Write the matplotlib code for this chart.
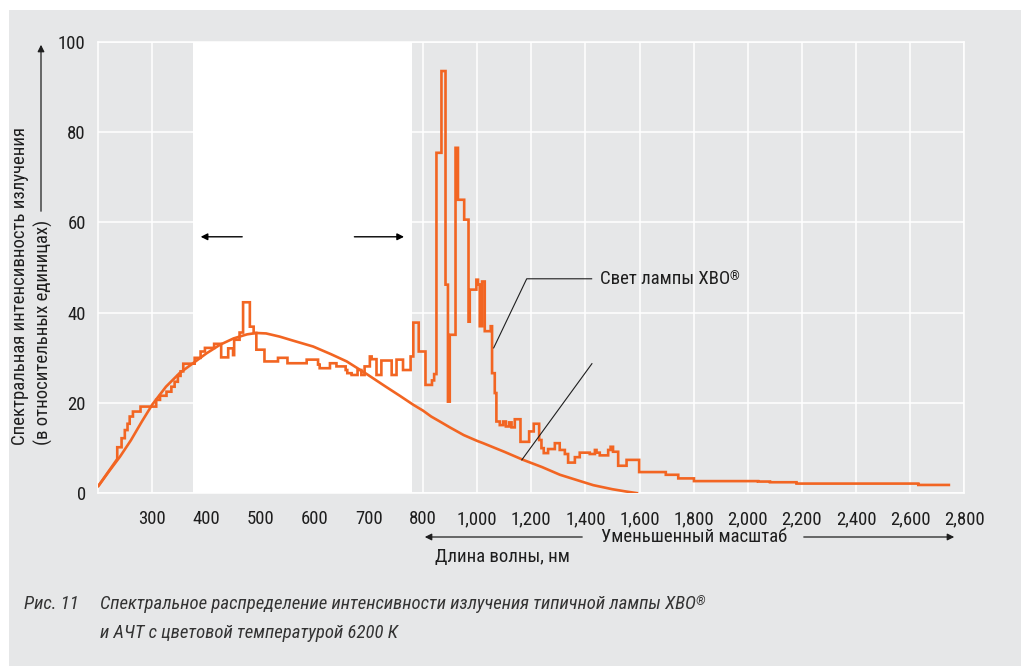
import numpy as np
import matplotlib.pyplot as plt
from matplotlib.patches import Rectangle

plt.rcParams['font.family'] = ['Roboto Condensed', 'DejaVu Sans']

ORANGE = '#f26522'
PANEL = '#e6e7e8'
INK = '#1e1e1e'

# axis ticks (nm above 800 are drawn at half scale)
xticks = [300, 400, 500, 600, 700, 800, 1000, 1200, 1400, 1600, 1800,
          2000, 2200, 2400, 2600, 2800]
yticks = [0, 20, 40, 60, 80, 100]

# black body 6200 K, relative units
bb_nm = [200, 220, 240, 260, 280, 300, 325, 350, 375, 400, 425, 450, 475,
         492, 510, 535, 560, 597, 630, 659, 696, 730, 757, 782, 800, 830,
         862, 899, 950, 1000, 1022, 1100, 1170, 1240, 1306, 1370, 1429,
         1500, 1550, 1595]
bb_val = [1.6, 4.9, 8.1, 11.7, 15.8, 19.7, 23.6, 26.6, 28.8, 31.0, 32.9,
          34.3, 35.2, 35.5, 35.4, 34.7, 33.8, 32.5, 30.8, 29.2, 26.4, 23.7,
          21.6, 19.6, 18.3, 17.0, 15.9, 14.6, 12.9, 11.6, 11.1, 9.2, 7.4,
          5.8, 4.1, 2.9, 1.8, 0.9, 0.4, 0.0]

# XBO lamp: ramp at the start, then a step spectrum (edge nm -> level)
xbo_ramp_nm = [200, 235]
xbo_ramp_val = [1.6, 7.6]
xbo_edges = [235, 243, 249, 254, 258, 264, 278, 307, 314, 326, 335, 341,
             347, 352, 357, 378, 389, 397, 414, 427, 440, 449, 451, 461,
             467.5, 480, 487, 492, 507, 532, 549.5, 585, 606, 609, 628,
             640, 657, 660, 668, 679, 686, 692, 701.7, 705, 714, 723, 742,
             751, 763, 777, 782, 792, 809, 833, 841, 849.5, 868, 883, 892,
             898.7, 920, 929, 952, 968, 972.6, 997, 1003, 1009.6, 1018,
             1028, 1050, 1055, 1065, 1071, 1083.5, 1096, 1106, 1118, 1127,
             1139, 1160, 1192, 1209, 1229, 1237.5, 1246, 1262, 1287, 1305,
             1324, 1336, 1361, 1379, 1416, 1435, 1441, 1453, 1484, 1493,
             1502, 1521, 1552, 1598.5, 1697, 1743, 1801, 2038, 2082, 2180,
             2630]
xbo_levels = [10.2, 12.2, 14.0, 15.4, 17.0, 18.1, 19.2, 20.7, 21.6, 22.5,
              23.6, 24.7, 26.0, 27.0, 28.7, 30.0, 31.4, 32.2, 33.1, 30.1,
              32.1, 30.6, 34.0, 35.6, 42.3, 36.9, 35.5, 31.8, 29.2, 30.0,
              28.8, 29.6, 28.5, 27.7, 28.8, 28.1, 27.3, 26.6, 26.2, 27.3,
              26.2, 28.1, 30.3, 29.7, 26.2, 29.4, 26.2, 29.6, 27.3, 30.3,
              37.8, 31.4, 24.0, 25.0, 26.4, 75.4, 93.5, 46.2, 20.3, 35.1,
              76.5, 65.0, 60.6, 38.0, 45.1, 47.3, 46.2, 37.0, 46.9, 35.9,
              37.0, 26.6, 22.2, 15.9, 15.1, 15.9, 14.8, 15.7, 14.6, 16.4,
              11.4, 13.7, 15.4, 11.8, 10.0, 8.9, 9.8, 11.1, 9.6, 8.7, 6.8,
              8.0, 9.0, 8.7, 9.6, 9.0, 8.4, 9.6, 10.3, 9.2, 6.1, 7.4, 4.7,
              4.1, 3.3, 2.7, 2.6, 2.45, 2.15, 1.85]
xbo_end = 2743

# visible range (white band)
visible = (375, 780)


def fwd(x):
    x = np.asarray(x, float)
    return np.where(x <= 800, x, 800 + (x - 800) / 2)


def inv(u):
    u = np.asarray(u, float)
    return np.where(u <= 800, u, 800 + (u - 800) * 2)


def step_path(edges, levels, start_x, start_y, end):
    xs, ys = list(start_x), list(start_y)
    prev = ys[-1]
    for e, lv in zip(edges, levels):
        xs += [e, e]
        ys += [prev, lv]
        prev = lv
    xs.append(end)
    ys.append(prev)
    return xs, ys


FS = 13.5
W, H = 1021, 666
fig = plt.figure(figsize=(W / 100, H / 100), dpi=100)
fig.patches.append(Rectangle((9 / W, 0), 1, (H - 10) / H, transform=fig.transFigure,
                             facecolor=PANEL, edgecolor='none', zorder=-10))

ax = fig.add_axes([98.3 / W, (H - 493.3) / H, 866 / W, 451.6 / H])
ax.set_facecolor(PANEL)
ax.set_xscale('function', functions=(fwd, inv))
ax.set_xlim(200, 2800)
ax.set_ylim(0, 100)
ax.set_xticks(xticks)
ax.set_xticklabels([f'{t:,}' for t in xticks])
ax.set_yticks(yticks)
ax.minorticks_off()
ax.tick_params(length=0, labelsize=FS, colors=INK)
ax.tick_params(axis='x', pad=12)
ax.tick_params(axis='y', pad=9)
ax.grid(True, color='white', lw=1.1)
ax.set_axisbelow(True)
for s in ax.spines.values():
    s.set_color('white')
    s.set_linewidth(1.1)

ax.axvspan(*visible, color='white', lw=0, zorder=1)

ax.plot(bb_nm, bb_val, color=ORANGE, lw=1.9, zorder=3, solid_capstyle='butt')
xs, ys = step_path(xbo_edges, xbo_levels, xbo_ramp_nm, xbo_ramp_val, xbo_end)
ax.plot(xs, ys, color=ORANGE, lw=1.9, zorder=3, solid_joinstyle='miter')

# arrows marking the visible range
arrow_kw = dict(arrowstyle='-|>', color='black', lw=1.0, mutation_scale=10)
ax.annotate('', xy=(384, 56.8), xytext=(471, 56.8), arrowprops=arrow_kw)
ax.annotate('', xy=(770, 56.8), xytext=(668, 56.8), arrowprops=arrow_kw)

# lamp label with leader
ax.plot([1061, 1183, 1423], [32.2, 47.5, 47.5], color=INK, lw=0.8, zorder=4)
lamp = ax.text(1453, 47.5, 'Свет лампы XBO', fontsize=FS, color=INK,
               ha='left', va='center')
ax.annotate('®', xy=(1, 1), xycoords=lamp, fontsize=9, color=INK,
            ha='left', va='top')
ax.plot([1165, 1424], [7.4, 28.7], color=INK, lw=0.8, zorder=4)

# y axis title
fig.text(20 / W, (H - 445) / H, 'Спектральная интенсивность излучения',
         rotation=90, ha='center', va='bottom', fontsize=FS, color=INK)
fig.text(43 / W, (H - 445) / H, '(в относительных единицах)',
         rotation=90, ha='center', va='bottom', fontsize=FS, color=INK)
fig_arrow = dict(arrowstyle='-|>', color=INK, lw=0.9, mutation_scale=10)
ax.annotate('', xy=(41, H - 42), xytext=(41, H - 214),
            xycoords='figure pixels', arrowprops=fig_arrow)

# x axis title
ax.annotate('', xy=(422, H - 537), xytext=(585, H - 537),
            xycoords='figure pixels', arrowprops=fig_arrow)
ax.annotate('', xy=(957, H - 537), xytext=(801, H - 537),
            xycoords='figure pixels', arrowprops=fig_arrow)
fig.text(694 / W, (H - 537) / H, 'Уменьшенный масштаб', ha='center',
         va='center', fontsize=FS, color=INK)
fig.text(502 / W, (H - 557) / H, 'Длина волны, нм', ha='center',
         va='center', fontsize=FS, color=INK)

# caption
cap_kw = dict(fontsize=FS, color='#333333', style='italic', va='center')
fig.text(24 / W, (H - 604) / H, 'Рис. 11', **cap_kw)
cap = fig.text(99.6 / W, (H - 604) / H,
               'Спектральное распределение интенсивности излучения типичной лампы XBO',
               **cap_kw)
fig.text(99.6 / W, (H - 633) / H, 'и АЧТ с цветовой температурой 6200 К', **cap_kw)
ax.annotate('®', xy=(1, 1), xycoords=cap, fontsize=9, color='#333333',
            style='italic', ha='left', va='top')

fig.savefig('out.png', dpi=100)
